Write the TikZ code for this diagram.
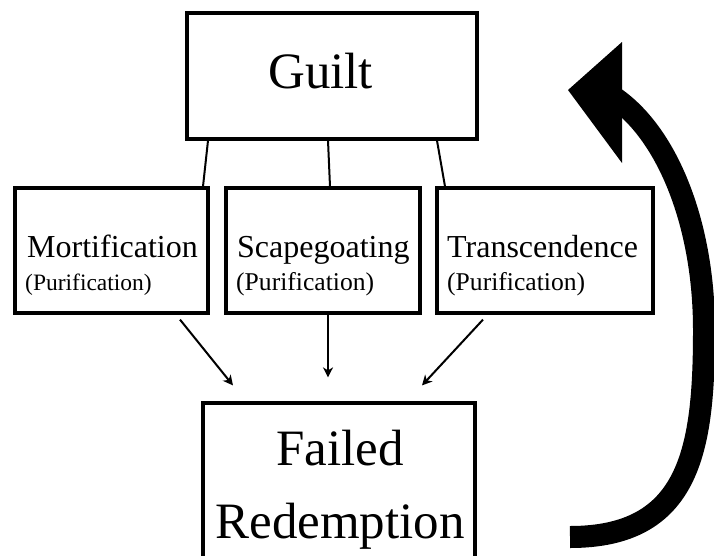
\documentclass[tikz,border=0pt]{standalone}
\usepackage{fontspec}
\setmainfont{Liberation Serif}
\usetikzlibrary{arrows.meta,shadows}
\tikzstyle{box} = [draw, rectangle, line width=3.2pt, fill=white, inner sep=0pt, drop shadow={shadow xshift=1.5pt, shadow yshift=-1.5pt, opacity=.3}]
\tikzstyle{titletext} = [inner sep=0pt, font=\fontsize{51}{60}\selectfont]
\tikzstyle{boxtext} = [inner sep=0pt, anchor=base west, font=\fontsize{32}{38}\selectfont]
\tikzstyle{subtext} = [inner sep=0pt, anchor=base west, font=\fontsize{25.6}{30}\selectfont]
\tikzstyle{link} = [line width=2pt]
\tikzstyle{flow} = [line width=2pt, -{Stealth[length=10pt, width=10pt, inset=3pt]}]

\begin{document}
\begin{tikzpicture}[x=1pt, y=-1pt]
    \useasboundingbox (0,0) rectangle (714,555);
    % boxes
    \node[box, minimum width=290pt, minimum height=126pt] (guilt) at (332,76) {};
    \node[box, minimum width=193pt, minimum height=125pt] (mort) at (111.5,250.5) {};
    \node[box, minimum width=194pt, minimum height=125pt] (scape) at (323,250.5) {};
    \node[box, minimum width=216pt, minimum height=125pt] (trans) at (545,250.5) {};
    \node[box, minimum width=272pt, minimum height=200pt] (fail) at (339,503) {};
    % texts
    \node[titletext, anchor=base west] (guiltT) at (268,88) {Guilt};
    \node[boxtext] (mortT) at (27,257) {Mortification};
    \node[subtext, font=\fontsize{23.5}{28}\selectfont] (mortS) at (25,290) {(Purification)};
    \node[boxtext] (scapeT) at (237,257) {Scapegoating};
    \node[subtext] (scapeS) at (236,290) {(Purification)};
    \node[boxtext] (transT) at (447,257) {Transcendence};
    \node[subtext] (transS) at (447,290) {(Purification)};
    \node[titletext, anchor=base] (failT) at (340,465) {Failed};
    \node[titletext, anchor=base] (failR) at (340,538) {Redemption};
    % guilt to the three ways
    \draw[link] ([xshift=-124pt]guilt.south) -- ([xshift=91.5pt]mort.north);
    \draw[link] ([xshift=-4pt]guilt.south) -- ([xshift=7pt]scape.north);
    \draw[link] ([xshift=105pt]guilt.south) -- ([xshift=-100pt]trans.north);
    % arrows down
    \coordinate (in1) at ([xshift=-106pt, yshift=16pt]fail.north);
    \coordinate (in2) at ([xshift=-11pt, yshift=24pt]fail.north);
    \coordinate (in3) at ([xshift=83pt, yshift=16pt]fail.north);
    \draw[flow] ([xshift=68.5pt, yshift=-5pt]mort.south) -- (in1);
    \draw[flow] ([xshift=5pt]scape.south) -- (in2);
    \draw[flow] ([xshift=-62pt, yshift=-5pt]trans.south) -- (in3);
    % back to guilt
    \draw[line width=22pt] (570,537) .. controls (690,537) and (704,450) .. (704,330)
        .. controls (704,225) and (668,135) .. (615,98);
    \fill (568,90) -- (622,42) -- (622,163) -- cycle;
\end{tikzpicture}
\end{document}
